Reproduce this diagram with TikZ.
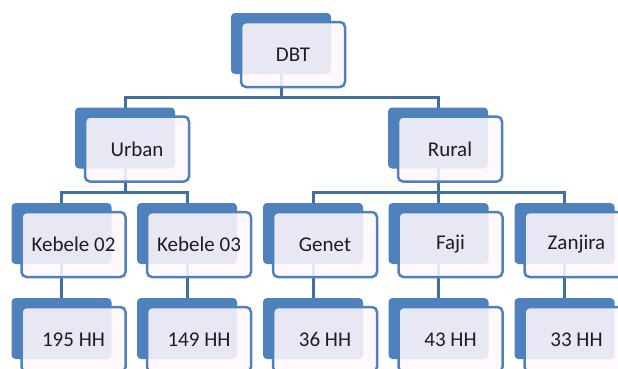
\documentclass[tikz,border=0pt]{standalone}
\usepackage{fontspec}
\setmainfont{Carlito}
\usetikzlibrary{backgrounds}
\definecolor{accblue}{HTML}{4F81BD}
\definecolor{linkblue}{HTML}{41709F}
\definecolor{txtgray}{HTML}{1E1E1E}
\definecolor{frontfill}{HTML}{FFF8FE}
\tikzset{
  backbox/.style={draw=none, fill=accblue, rounded corners=4pt, minimum width=100pt, minimum height=61pt, inner sep=0pt},
  frontbox/.style={draw=accblue, line width=2.5pt, fill=frontfill, fill opacity=0.87, text opacity=1, rounded corners=5pt, minimum width=104pt, minimum height=65pt, inner sep=0pt, font=\fontsize{21}{25}\selectfont, text=txtgray},
  conn/.style={draw=linkblue, line width=3pt}
}
\newcommand\orgbox[4]{%
  \node[backbox] (#1b) at (#2,#3+30.5) {};
  \node[frontbox] (#1) at (#2+12,#3+41.5) {#4};}
\begin{document}
\begin{tikzpicture}[x=1pt,y=-1pt]
\useasboundingbox (0,0) rectangle (618,368);
\clip (0,0) rectangle (618,368);
\orgbox{dbt}{281}{13}{DBT}
\orgbox{urban}{125}{107.5}{Urban}
\orgbox{rural}{438}{107.5}{Rural}
\orgbox{kA}{61.5}{203}{Kebele 02}
\orgbox{kB}{187}{203}{Kebele 03}
\orgbox{genet}{313}{203}{Genet}
\orgbox{faji}{438.5}{203}{Faji}
\orgbox{zanj}{564.5}{203}{Zanjira}
\orgbox{hA}{61.5}{298}{195 HH}
\orgbox{hB}{187}{298}{149 HH}
\orgbox{hC}{313}{298}{36 HH}
\orgbox{hD}{438.5}{298}{43 HH}
\orgbox{hE}{564.5}{298}{33 HH}
\coordinate (j1) at (281,97);
\coordinate (j2) at (125,192.5);
\coordinate (j3) at (438,192.5);
\begin{scope}[on background layer]
  \draw[conn] (dbtb.center) -- (j1);
  \draw[conn] (urbanb.center) |- (j1) -| (ruralb.center);
  \draw[conn] (urbanb.center) -- (j2);
  \draw[conn] (kAb.center) |- (j2) -| (kBb.center);
  \draw[conn] (ruralb.center) -- (j3);
  \draw[conn] (genetb.center) |- (j3) -| (zanjb.center);
  \draw[conn] (fajib.center) -- (fajib.center |- j3);
  \draw[conn] (kAb.center) -- (hAb.center);
  \draw[conn] (kBb.center) -- (hBb.center);
  \draw[conn] (genetb.center) -- (hCb.center);
  \draw[conn] (fajib.center) -- (hDb.center);
  \draw[conn] (zanjb.center) -- (hEb.center);
\end{scope}
\end{tikzpicture}
\end{document}
